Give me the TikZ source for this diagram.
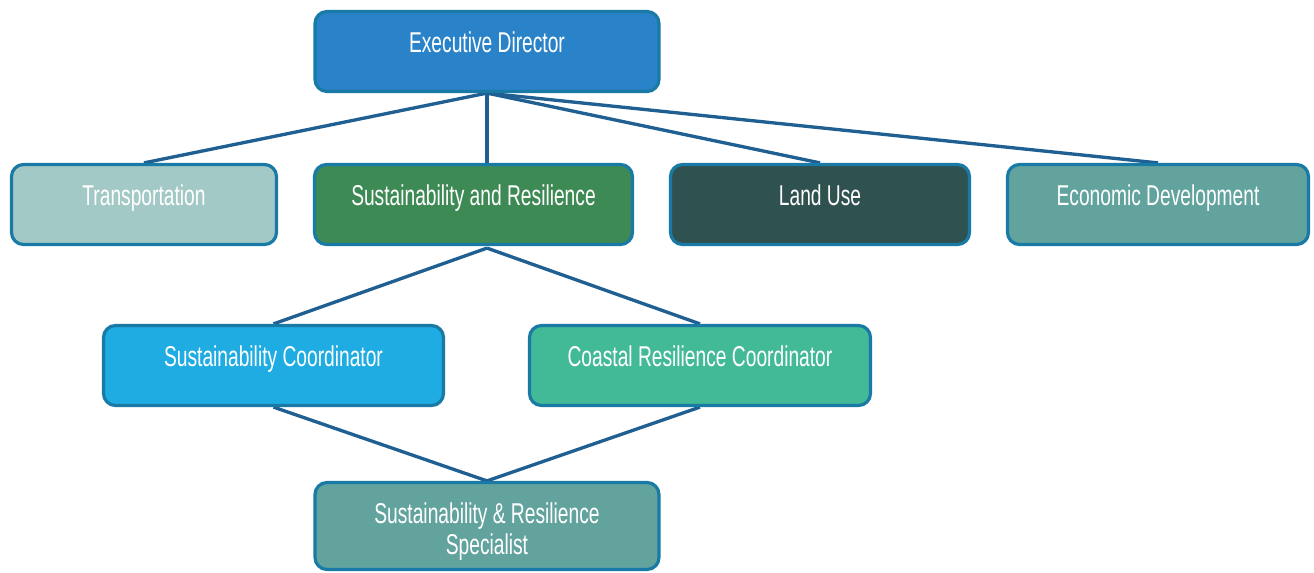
\documentclass[tikz,border=0pt]{standalone}
\usepackage{fontspec}
\setmainfont{Liberation Sans}[FakeStretch=0.67]
\usetikzlibrary{calc,backgrounds}
\definecolor{bordc}{RGB}{26,122,166}
\definecolor{linkc}{RGB}{31,95,145}
\definecolor{execc}{RGB}{42,130,200}
\definecolor{transc}{RGB}{163,201,198}
\definecolor{src}{RGB}{62,138,85}
\definecolor{landc}{RGB}{47,81,80}
\definecolor{econc}{RGB}{98,163,158}
\definecolor{scoordc}{RGB}{30,172,227}
\definecolor{coastc}{RGB}{67,186,151}
\definecolor{specc}{RGB}{98,163,158}
\begin{document}
\begin{tikzpicture}[x=0.75pt,y=-0.75pt,
  font=\fontsize{21.5pt}{23.25pt}\selectfont,
  box/.style={draw=bordc, line width=2.4pt, rounded corners=9pt, text=white,
    inner sep=0pt, text height=30.6pt, text depth=29.4pt},
  link/.style={draw=linkc, line width=2.5pt}]
\useasboundingbox (0,0) rectangle (1314,573);
\node[box, fill=execc, minimum width=258pt] (exec) at (487,51.5) {Executive Director};
\node[box, fill=transc, minimum width=198.75pt] (trans) at (144,204.5) {Transportation};
\node[box, fill=src, minimum width=238.5pt] (sr) at (473.5,204.5) {Sustainability and Resilience};
\node[box, fill=landc, minimum width=224.25pt] (land) at (820,204.5) {Land Use};
\node[box, fill=econc, minimum width=225.75pt] (econ) at (1158,204.5) {Economic Development};
\node[box, fill=scoordc, minimum width=255pt] (scoord) at (273.5,365.5) {Sustainability Coordinator};
\node[box, fill=coastc, minimum width=255.75pt] (coast) at (700,365.5) {Coastal Resilience Coordinator};
\node[box, fill=specc, minimum width=258pt, text depth=34.65pt] (spec) at (487,526)
  {\begin{tabular}[t]{@{}c@{}}Sustainability \& Resilience\\Specialist\end{tabular}};
\begin{scope}[on background layer]
\draw[link] (exec.south) -- (trans.north);
\draw[link] (exec.south) -- (sr.north -| exec.south);
\draw[link] (exec.south) -- (land.north);
\draw[link] (exec.south) -- (econ.north);
\draw[link] ($(sr.south -| exec.south)+(0,2)$) -- (scoord.north);
\draw[link] ($(sr.south -| exec.south)+(0,2)$) -- (coast.north);
\draw[link] (scoord.south) -- (spec.north);
\draw[link] (coast.south) -- (spec.north);
\end{scope}
\end{tikzpicture}
\end{document}
